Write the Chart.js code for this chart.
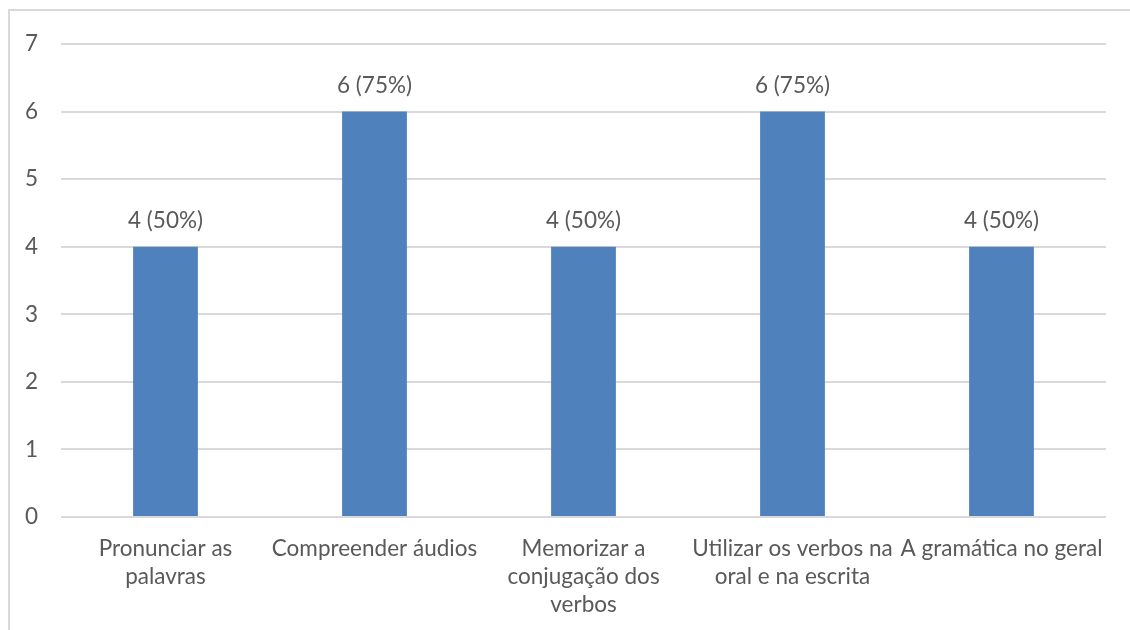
<!DOCTYPE html>
<html>
<head>
<meta charset="utf-8">
<script src="https://cdn.jsdelivr.net/npm/chart.js@4"></script>
<style>
  html, body { margin: 0; padding: 0; background: #fff; overflow: hidden; }
  #frame {
    position: absolute; left: 8px; top: 9px; width: 1200px; height: 700px;
    border-top: 2px solid #d9d9d9; border-left: 2px solid #d9d9d9;
  }
  #wrap { position: absolute; left: 0; top: 0; width: 1130px; height: 630px; }
</style>
</head>
<body>
<div id="frame"></div>
<div id="wrap"><canvas id="chart"></canvas></div>
<script>
// Chart data
const categories = [
  ['Pronunciar as', 'palavras'],
  'Compreender áudios',
  ['Memorizar a', 'conjugação dos', 'verbos'],
  ['Utilizar os verbos na', 'oral e na escrita'],
  'A gramática no geral'
];
const counts = [4, 6, 4, 6, 4];
const percents = [50, 75, 50, 75, 50];
const yTicks = [0, 1, 2, 3, 4, 5, 6, 7];

const FONT = 'Lato, "Open Sans", sans-serif';
const TEXT = '#595959';
const GRID = '#d9d9d9';
const SIZE = 22.5;

// draws "4 (50%)" above each bar
const barLabels = {
  id: 'barLabels',
  afterDatasetsDraw(chart) {
    const ctx = chart.ctx;
    const meta = chart.getDatasetMeta(0);
    ctx.save();
    ctx.font = SIZE + 'px ' + FONT;
    ctx.fillStyle = TEXT;
    ctx.textAlign = 'center';
    ctx.textBaseline = 'alphabetic';
    meta.data.forEach((bar, i) => {
      ctx.fillText(counts[i] + ' (' + percents[i] + '%)', bar.x, bar.y - 19);
    });
    ctx.restore();
  }
};

new Chart(document.getElementById('chart'), {
  type: 'bar',
  data: {
    labels: categories,
    datasets: [{
      data: counts,
      backgroundColor: '#4f81bd',
      borderWidth: 0,
      categoryPercentage: 1,
      barPercentage: 0.31
    }]
  },
  plugins: [barLabels],
  options: {
    responsive: true,
    maintainAspectRatio: false,
    animation: false,
    layout: { padding: { top: 44, right: 24, left: 0, bottom: 0 } },
    plugins: {
      legend: { display: false },
      tooltip: { enabled: false }
    },
    scales: {
      y: {
        min: 0,
        max: 7,
        afterFit(scale) { scale.width = 61; },
        afterBuildTicks(scale) { scale.ticks = yTicks.map(v => ({ value: v })); },
        border: { display: false },
        grid: { color: GRID, lineWidth: 2, drawTicks: false },
        ticks: { color: TEXT, padding: 23, font: { family: FONT, size: SIZE } }
      },
      x: {
        afterFit(scale) { scale.height = 113; },
        border: { display: false },
        grid: { display: false, drawTicks: false },
        ticks: {
          color: TEXT,
          padding: 18,
          maxRotation: 0,
          autoSkip: false,
          font: { family: FONT, size: SIZE, lineHeight: 1.24 }
        }
      }
    }
  }
});
</script>
</body>
</html>
